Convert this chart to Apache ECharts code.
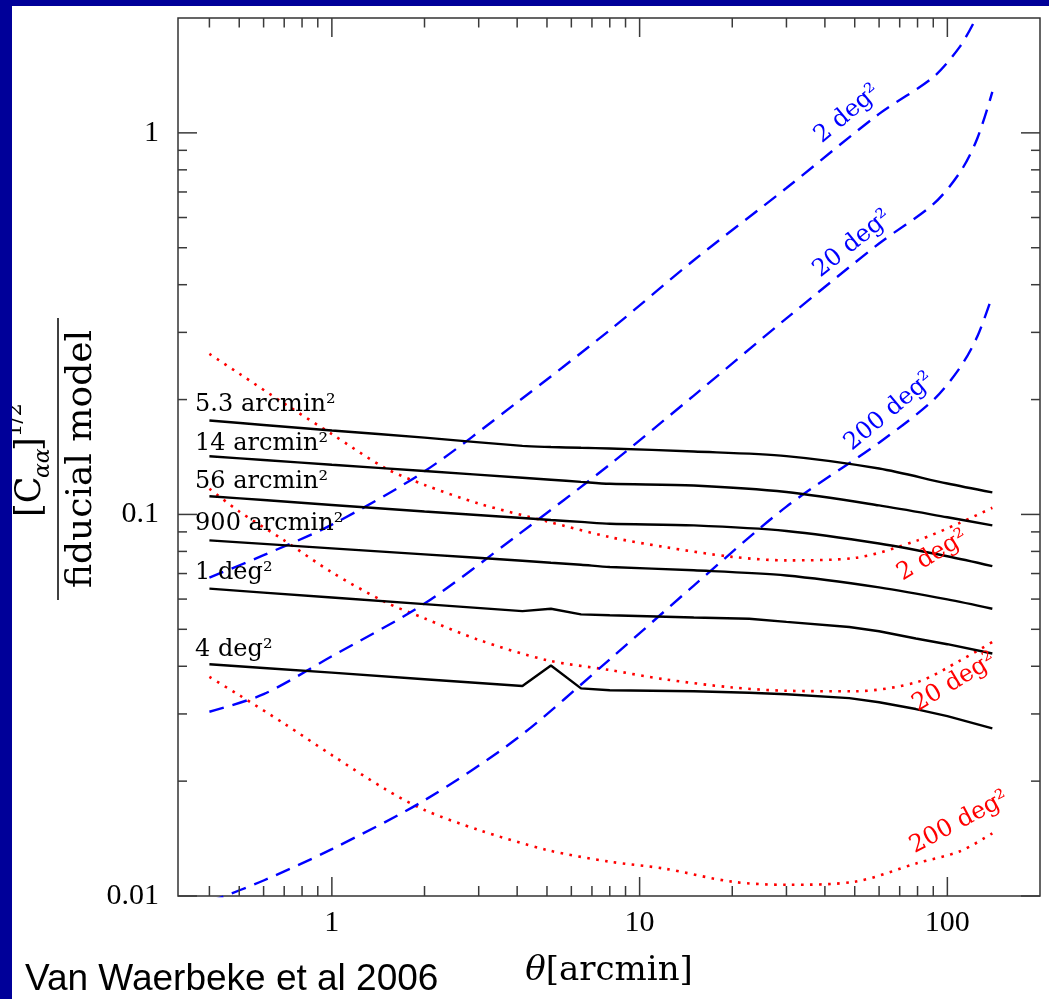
<!DOCTYPE html>
<html><head><meta charset="utf-8">
<script src="https://cdn.jsdelivr.net/npm/echarts@6/dist/echarts.min.js"></script>
<style>html,body{margin:0;padding:0;background:#fff}#c{width:1049px;height:999px}</style>
</head><body><div id="c"></div><script>
// ---------------- DATA ----------------
const thetaBlack = [0.4, 0.6, 1, 2, 4.16, 5.15, 6.45, 8, 15, 30, 60, 100, 140];
const black_5_3arcmin = [0.1762, 0.1716, 0.1660, 0.1590, 0.1512, 0.1502, 0.1495, 0.1489, 0.1462, 0.1422, 0.1319, 0.1205, 0.1142];
const black_14arcmin  = [0.1421, 0.1389, 0.1350, 0.1300, 0.1248, 0.1233, 0.1217, 0.1203, 0.1191, 0.1145, 0.1056, 0.0983, 0.0936];
const black_56arcmin  = [0.1116, 0.1091, 0.1059, 0.1018, 0.0979, 0.0967, 0.0956, 0.0945, 0.0936, 0.0905, 0.0839, 0.0777, 0.0732];
const black_900arcmin = [0.0855, 0.0837, 0.0815, 0.0786, 0.0756, 0.0747, 0.0738, 0.0728, 0.0714, 0.0692, 0.0644, 0.0599, 0.0566];
const thetaBlackLow = [0.4, 0.6, 1, 2, 4.16, 5.15, 6.45, 8, 15, 22.7, 30, 48, 60, 79, 100, 140];
const black_1deg = [0.0639, 0.0624, 0.0606, 0.0582, 0.0558, 0.0566, 0.0547, 0.0544, 0.0537, 0.0533, 0.0523, 0.0507, 0.0494, 0.0473, 0.0457, 0.0432];
const black_4deg = [0.0405, 0.0396, 0.0385, 0.0370, 0.0355, 0.0402, 0.0350, 0.0346, 0.0344, 0.0341, 0.0338, 0.0330, 0.0322, 0.0309, 0.0296, 0.0275];

const thetaRed = [0.4, 0.5, 0.7, 1, 1.5, 2, 3, 5, 8, 12, 20, 30, 50, 80, 110, 140];
const red_2deg   = [0.2634, 0.2339, 0.1953, 0.1624, 0.1319, 0.1195, 0.1068, 0.0959, 0.0872, 0.0822, 0.0774, 0.0758, 0.0769, 0.0855, 0.0951, 0.1041];
const red_20deg  = [0.1168, 0.1018, 0.0855, 0.0705, 0.0588, 0.0534, 0.0469, 0.0415, 0.0391, 0.0370, 0.0352, 0.0345, 0.0344, 0.0364, 0.0414, 0.0463];
const red_200deg = [0.0375, 0.0336, 0.0283, 0.0234, 0.0190, 0.0168, 0.0149, 0.0132, 0.0123, 0.0118, 0.0109, 0.0107, 0.0109, 0.0122, 0.0131, 0.0146];

const thetaBlue2 = [0.4, 0.6, 1, 2, 4, 8, 15, 30, 60, 90, 110, 124];
const blue_2deg  = [0.0683, 0.0782, 0.0940, 0.1297, 0.1967, 0.3041, 0.4637, 0.7167, 1.1213, 1.3999, 1.6856, 2.0];
const thetaBlue = [0.4, 0.6, 1, 2, 4, 8, 15, 30, 60, 90, 110, 125, 140];
const blue_20deg  = [0.0304, 0.0338, 0.0425, 0.0584, 0.0881, 0.1352, 0.2049, 0.3265, 0.5129, 0.6502, 0.7888, 0.965, 1.2801];
const blue_200deg = [0.00965, 0.01098, 0.01327, 0.01782, 0.0259, 0.0417, 0.0651, 0.1048, 0.1542, 0.1994, 0.2428, 0.292, 0.3744];

// axis ticks and tick labels
const xMajorTicks = [1, 10, 100];
const xMinorTicks = [0.4, 0.5, 0.6, 0.7, 0.8, 0.9, 2, 3, 4, 5, 6, 7, 8, 9, 20, 30, 40, 50, 60, 70, 80, 90];
const yMajorTicks = [0.01, 0.1, 1];
const yMinorTicks = [0.02, 0.03, 0.04, 0.05, 0.06, 0.07, 0.08, 0.09, 0.2, 0.3, 0.4, 0.5, 0.6, 0.7, 0.8, 0.9];
const xTickLabels = {'0': '1', '1': '10', '2': '100'};
const yTickLabels = {'-2': '0.01', '-1': '0.1', '0': '1'};

// curve annotations (anchor in data coordinates)
const labelTexts = ['5.3 arcmin²', '14 arcmin²', '56 arcmin²', '900 arcmin²', '1 deg²', '4 deg²',
                    '2 deg²', '20 deg²', '200 deg²', '2 deg²', '20 deg²', '200 deg²'];
const labelTheta = [0.3594, 0.3594, 0.3594, 0.3594, 0.3594, 0.3594, 47.3, 49.1, 64.7, 89.5, 105.3, 109.3];
const labelValue = [0.1934, 0.1531, 0.1221, 0.0943, 0.0703, 0.0443, 1.121, 0.512, 0.186, 0.0781, 0.0363, 0.0156];

// ---------------- STYLE ----------------
const BLUE = '#0000ff', RED = '#ff0000';
const labelColor = ['#000','#000','#000','#000','#000','#000', BLUE, BLUE, BLUE, RED, RED, RED];
const labelAngle = [0,0,0,0,0,0, 40, 39, 40, 31, 31, 28];
const labelAlign = ['left','left','left','left','left','left','center','center','center','center','center','center'];
const labelSize  = [24,24,24,24,24,24, 24,24,24, 24,24,24];

function pairs(xs, ys) { return xs.map((x, i) => [x, ys[i]]); }
function blackSeries(xs, ys, smooth) {
  return {type:'line', data: pairs(xs, ys), showSymbol:false, symbol:'none', silent:true, smooth:smooth,
    lineStyle:{color:'#000', width:2.4}, z:3};
}
function blueSeries(xs, ys) {
  return {type:'line', data: pairs(xs, ys), showSymbol:false, symbol:'none', silent:true, smooth:0.3,
    lineStyle:{color:BLUE, width:2.4, type:[15, 9]}, z:2};
}
function redSeries(ys) {
  return {type:'line', data: pairs(thetaRed, ys), showSymbol:false, symbol:'none', silent:true, smooth:0.3,
    lineStyle:{color:RED, width:2.6, type:[2.6, 6.4]}, z:2};
}

const chart = echarts.init(document.getElementById('c'), null, {renderer:'canvas'});
const TICK = '#3a3a3a';
function tl(x1, y1, x2, y2) {
  return {type:'line', shape:{x1:x1, y1:y1, x2:x2, y2:y2}, style:{stroke:TICK, lineWidth:1.5}};
}
const isPow10 = v => Math.abs(Math.log10(v) - Math.round(Math.log10(v))) < 1e-6;
const TXT = (s) => Object.assign({fill:'#000', align:'left', verticalAlign:'middle', textAlign:'left', textVerticalAlign:'middle'}, s);

const option = {
  animation:false,
  backgroundColor:'#fff',
  grid:{left:178, top:18, right:9, bottom:103, show:true, borderColor:'#333', borderWidth:1.5, backgroundColor:'#fff'},
  xAxis:{type:'log', logBase:10, min:0.316228, max:200,
    axisLine:{show:false}, axisTick:{show:false}, splitLine:{show:false},
    axisLabel:{margin:12, color:'#000', fontFamily:'Liberation Serif', fontSize:30,
      formatter: v => isPow10(v) ? (xTickLabels[String(Math.round(Math.log10(v)))] || '') : ''},
    name:'{i|θ}[arcmin]', nameLocation:'middle', nameGap:58,
    nameTextStyle:{color:'#000', fontFamily:'DejaVu Serif', fontSize:34,
      rich:{i:{fontStyle:'italic', fontFamily:'DejaVu Serif', fontSize:34, color:'#000'}}}},
  yAxis:{type:'log', logBase:10, min:0.01, max:2,
    axisLine:{show:false}, axisTick:{show:false}, splitLine:{show:false},
    axisLabel:{margin:19, color:'#000', fontFamily:'Liberation Serif', fontSize:30,
      formatter: v => isPow10(v) ? (yTickLabels[String(Math.round(Math.log10(v)))] || '') : ''}},
  graphic:[
    {type:'rect', shape:{x:0, y:0, width:1049, height:6}, style:{fill:'#000099'}, z:100},
    {type:'rect', shape:{x:0, y:0, width:12, height:999}, style:{fill:'#000099'}, z:100},
    {type:'text', x:25, y:980, style:TXT({text:'Van Waerbeke et al 2006', font:'37px "Liberation Sans"'})},
    {type:'group', x:58, y:459, rotation:Math.PI/2, children:[
      {type:'line', shape:{x1:-141, y1:0, x2:141, y2:0}, style:{stroke:'#000', lineWidth:1.5}},
      {type:'text', x:-58, y:-27, style:TXT({text:'[C', font:'35px "DejaVu Serif"'})},
      {type:'text', x:-19, y:-15, style:TXT({text:'αα', font:'italic 22px "DejaVu Serif"'})},
      {type:'text', x:8, y:-27, style:TXT({text:']', font:'35px "DejaVu Serif"'})},
      {type:'text', x:22, y:-42, style:TXT({text:'1/2', font:'21px "DejaVu Serif"'})},
      {type:'text', x:0, y:6, style:TXT({text:'fiducial model', font:'36px "DejaVu Serif"', align:'center', verticalAlign:'top', textAlign:'center', textVerticalAlign:'top'})}
    ]}
  ],
  series:[
    blackSeries(thetaBlack, black_5_3arcmin, 0.3), blackSeries(thetaBlack, black_14arcmin, 0.3),
    blackSeries(thetaBlack, black_56arcmin, 0.3), blackSeries(thetaBlack, black_900arcmin, 0.3),
    blackSeries(thetaBlackLow, black_1deg, false), blackSeries(thetaBlackLow, black_4deg, false),
    redSeries(red_2deg), redSeries(red_20deg), redSeries(red_200deg),
    blueSeries(thetaBlue2, blue_2deg), blueSeries(thetaBlue, blue_20deg), blueSeries(thetaBlue, blue_200deg),
    {type:'custom', coordinateSystem:'cartesian2d', data:[[1, 1]], silent:true, clip:false, z:10,
      renderItem:function(params, api){
        const cs = params.coordSys;
        const L = cs.x, R = cs.x + cs.width, T = cs.y, B = cs.y + cs.height;
        const ch = [];
        xMajorTicks.forEach(v => { const p = api.coord([v, 1])[0]; ch.push(tl(p, B, p, B - 19)); ch.push(tl(p, T, p, T + 19)); });
        xMinorTicks.forEach(v => { const p = api.coord([v, 1])[0]; ch.push(tl(p, B, p, B - 10)); ch.push(tl(p, T, p, T + 9.5)); });
        yMajorTicks.forEach(v => { const p = api.coord([1, v])[1]; ch.push(tl(L, p, L + 19, p)); ch.push(tl(R, p, R - 19, p)); });
        yMinorTicks.forEach(v => { const p = api.coord([1, v])[1]; ch.push(tl(L, p, L + 9, p)); ch.push(tl(R, p, R - 9, p)); });
        return {type:'group', children:ch};
      }},
    {type:'custom', coordinateSystem:'cartesian2d', data:pairs(labelTheta, labelValue), silent:true, clip:false, z:11,
      renderItem:function(params, api){
        const i = params.dataIndex;
        const p = api.coord([api.value(0), api.value(1)]);
        return {type:'text', x:p[0], y:p[1], rotation:labelAngle[i] * Math.PI / 180,
          style:{text:labelTexts[i], fill:labelColor[i], font:labelSize[i] + 'px "DejaVu Serif"',
            align:labelAlign[i], verticalAlign:'middle'}};
      }}
  ]
};
chart.setOption(option);
</script></body></html>
